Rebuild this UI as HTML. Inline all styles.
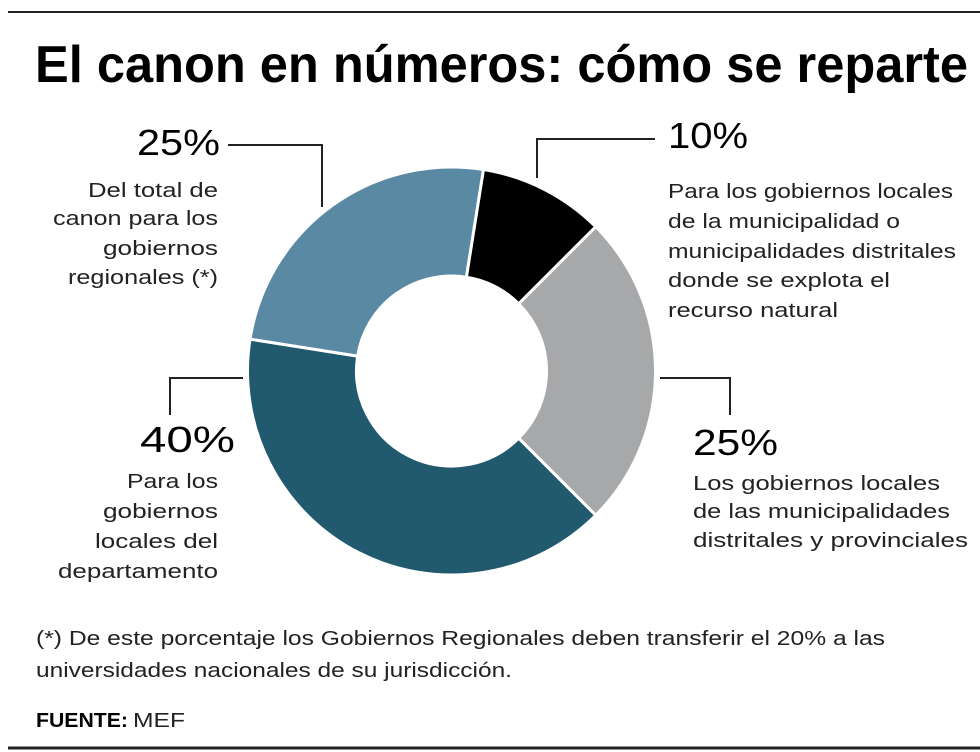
<!DOCTYPE html>
<html><head><meta charset="utf-8"><style>
html,body{margin:0;padding:0;background:#fff;}
svg{display:block;}
text{font-family:"Liberation Sans",sans-serif;fill:#222;}
</style></head><body>
<svg id="chart" width="980" height="752" viewBox="0 0 980 752">
<line x1="8" y1="12" x2="980" y2="12" stroke="#222" stroke-width="2"/>
<text x="35" y="82" font-size="52" font-weight="bold" style="fill:#000" textLength="933" lengthAdjust="spacingAndGlyphs">El canon en números: cómo se reparte</text>
<g id="donut"></g>
<g stroke="#222" stroke-width="2" fill="none">
<polyline points="228,145 322,145 322,207"/>
<polyline points="655,139 537,139 537,178"/>
<polyline points="660,378 730,378 730,415"/>
<polyline points="243,378 170,378 170,415"/>
</g>
<g id="labels"></g>
<text x="36" y="645" font-size="20" textLength="849" lengthAdjust="spacingAndGlyphs">(*) De este porcentaje los Gobiernos Regionales deben transferir el 20% a las</text>
<text x="36" y="677" font-size="20" textLength="476" lengthAdjust="spacingAndGlyphs">universidades nacionales de su jurisdicción.</text>
<text x="36" y="727" font-size="20" font-weight="bold" style="fill:#000" textLength="92" lengthAdjust="spacingAndGlyphs">FUENTE:</text>
<text x="133" y="727" font-size="20" textLength="52" lengthAdjust="spacingAndGlyphs">MEF</text>
<line x1="8" y1="748" x2="980" y2="748" stroke="#222" stroke-width="3"/>
</svg>
<script>
const categories = ["Gobiernos locales (municipalidad productora)", "Gobiernos locales distritales y provinciales", "Gobiernos locales del departamento", "Gobiernos regionales"];
const values = [10, 25, 40, 25];
const colors = ["#000000", "#a7a8aa", "#215a6e", "#5a8aa3"];
const pctLabels = ["10%", "25%", "40%", "25%"];
const descriptions = [
  ["Para los gobiernos locales","de la municipalidad o","municipalidades distritales","donde se explota el","recurso natural"],
  ["Los gobiernos locales","de las municipalidades","distritales y provinciales"],
  ["Para los","gobiernos","locales del","departamento"],
  ["Del total de","canon para los","gobiernos","regionales (*)"]
];
const startAngle = 9;

const NS = "http://www.w3.org/2000/svg";
const cx = 451.5, cy = 371, R = 204, r = 95;
function pt(deg, rad){ const a = (deg-90)*Math.PI/180; return [cx+rad*Math.cos(a), cy+rad*Math.sin(a)]; }
const total = values.reduce((a,b)=>a+b,0);
const donut = document.getElementById('donut');
let ang = startAngle;
values.forEach((v,i)=>{
  const sweep = v/total*360, a0 = ang, a1 = ang+sweep; ang = a1;
  const [x0,y0]=pt(a0,R),[x1,y1]=pt(a1,R),[x2,y2]=pt(a1,r),[x3,y3]=pt(a0,r);
  const lg = sweep>180?1:0;
  const p = document.createElementNS(NS,'path');
  p.setAttribute('d',`M${x0},${y0} A${R},${R} 0 ${lg} 1 ${x1},${y1} L${x2},${y2} A${r},${r} 0 ${lg} 0 ${x3},${y3} Z`);
  p.setAttribute('fill',colors[i]);
  p.setAttribute('stroke','#fff');
  p.setAttribute('stroke-width','3');
  
  
  donut.appendChild(p);
});

const layout = [
  {x:668, anchor:'start', py:148, pw:80, dy:[198,228,258,287,317], dw:[285,232,288,222,170]},
  {x:693, anchor:'start', py:455, pw:85, dy:[490,518,547], dw:[247,257,275]},
  {x:235, anchor:'end', py:452, pw:95, dy:[488,518,548,578], dw:[91,115,123,160]},
  {x:220, anchor:'end', py:155, pw:83, dy:[197,225,255,284], dw:[130,165,115,150]}
];
const lg = document.getElementById('labels');
values.forEach((v,i)=>{
  const L = layout[i];
  const t = document.createElementNS(NS,'text');
  t.setAttribute('x', L.x); t.setAttribute('y', L.py);
  t.setAttribute('font-size','36'); t.setAttribute('text-anchor',L.anchor);
  t.setAttribute('style','fill:#000');
  t.setAttribute('textLength', L.pw); t.setAttribute('lengthAdjust','spacingAndGlyphs');
  t.textContent = pctLabels[i];
  
  
  lg.appendChild(t);
  descriptions[i].forEach((line,j)=>{
    const d = document.createElementNS(NS,'text');
    const dx = (i===2 || i===3) ? 218 : L.x;
    d.setAttribute('x', dx); d.setAttribute('y', L.dy[j]);
    d.setAttribute('font-size','20'); d.setAttribute('text-anchor',L.anchor);
    d.setAttribute('textLength', L.dw[j]); d.setAttribute('lengthAdjust','spacingAndGlyphs');
    d.textContent = line;
    
    
    lg.appendChild(d);
  });
});
</script>
</body></html>
